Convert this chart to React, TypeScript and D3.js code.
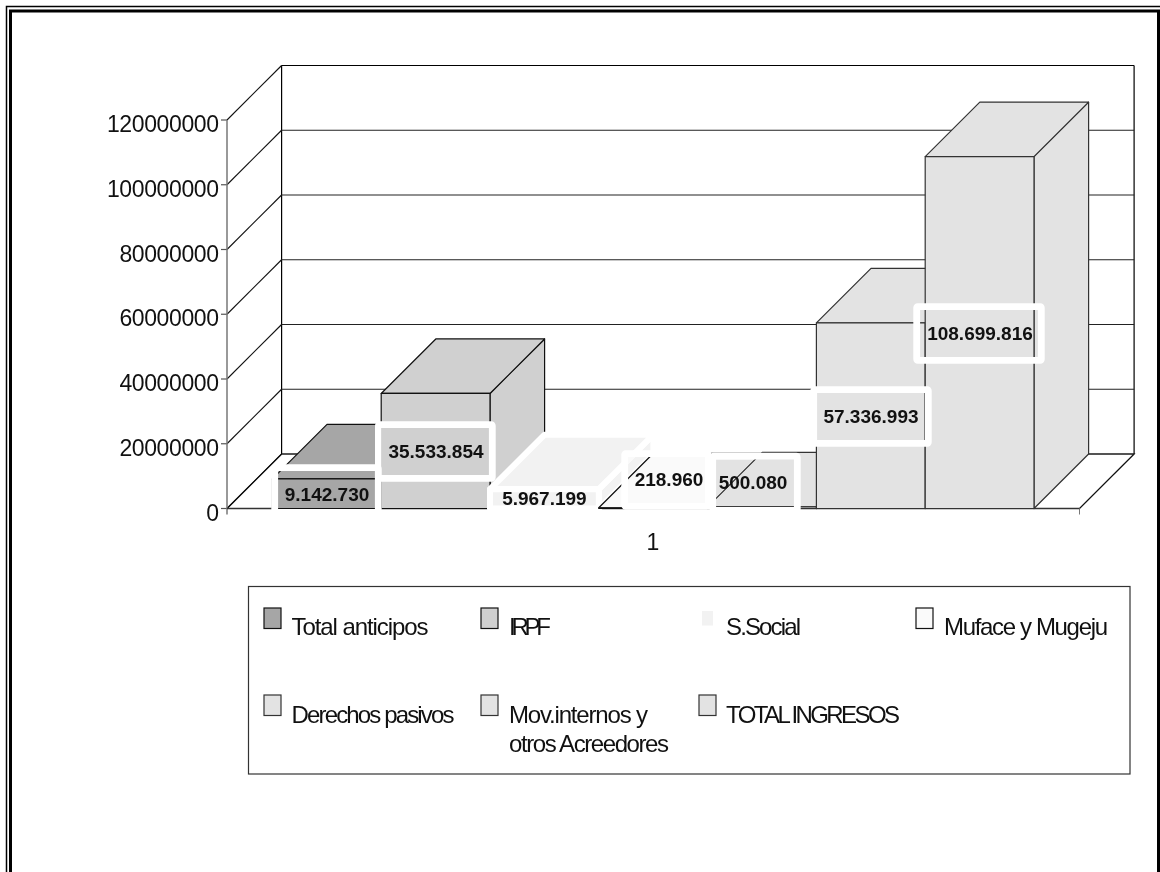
import React from "react";
import * as d3 from "d3";

const seriesNames = ["Total anticipos", "IRPF", "S.Social", "Muface y Mugeju", "Derechos pasivos", "Mov.internos y otros Acreedores", "TOTAL INGRESOS"];
const seriesValues = [9142730, 35533854, 5967199, 218960, 500080, 57336993, 108699816];
const seriesLabels = ["9.142.730", "35.533.854", "5.967.199", "218.960", "500.080", "57.336.993", "108.699.816"];
const seriesFills = ["#a6a6a6", "#d0d0d0", "#f2f2f2", "#fafafa", "#e3e3e3", "#e3e3e3", "#e3e3e3"];
const seriesEdges = ["#111", "#111", "#fff", "#111", "#333", "#333", "#333"];
const yTicks = [0, 20000000, 40000000, 60000000, 80000000, 100000000, 120000000];

const FONT = "'Liberation Sans', Arial, sans-serif";
const x0 = 227, x1 = 1079.5, y0 = 508.5, yTop = 120, dx = 54.6, dy = 54.5;

// label frames: filled area and text centre
const labelFrames: (null | { l: number; t: number; r: number; b: number; tx: number; ty: number })[] = [
  { l: 278, t: 471, r: 375, b: 509, tx: 327, ty: 494 },
  { l: 381.7, t: 428, r: 489, b: 475, tx: 436, ty: 451 },
  null,
  { l: 628, t: 457, r: 705, b: 503, tx: 669, ty: 479 },
  { l: 716, t: 459.5, r: 794, b: 507, tx: 753, ty: 482 },
  { l: 817, t: 393, r: 925, b: 440, tx: 871, ty: 416 },
  { l: 920, t: 310, r: 1038, b: 357, tx: 980, ty: 333 },
];

const legendItems: { key: number; kx: number; ky: number; lines: { s: string; x: number; y: number; w: number }[] }[] = [
  { key: 0, kx: 264, ky: 608, lines: [{ s: "Total anticipos", x: 291.5, y: 635, w: 137 }] },
  { key: 1, kx: 481, ky: 608, lines: [{ s: "IRPF", x: 509, y: 635, w: 42 }] },
  { key: 2, kx: 699, ky: 608, lines: [{ s: "S.Social", x: 726, y: 635, w: 75 }] },
  { key: 3, kx: 916, ky: 608, lines: [{ s: "Muface y Mugeju", x: 944, y: 635, w: 164 }] },
  { key: 4, kx: 264, ky: 695, lines: [{ s: "Derechos pasivos", x: 291.5, y: 723, w: 163 }] },
  { key: 5, kx: 481, ky: 695, lines: [{ s: "Mov.internos y", x: 509, y: 722.5, w: 139 }, { s: "otros Acreedores", x: 509, y: 752, w: 160 }] },
  { key: 6, kx: 699, ky: 695, lines: [{ s: "TOTAL INGRESOS", x: 726, y: 723, w: 174 }] },
];

export default function App() {
  const y = d3.scaleLinear().domain([0, 120000000]).range([y0, yTop]);
  const band = d3.scaleBand<number>().domain(seriesValues.map((_, i) => i)).range([272.4, 1034]).padding(0);
  const w = band.bandwidth();
  const line = d3.line();

  const bars = seriesValues.map((v, i) => {
    const l = band(i)!, r = l + w, t = y(v), b = y0;
    return {
      i, l, r, t, b,
      front: line([[l, t], [r, t], [r, b], [l, b]])! + "Z",
      top: line([[l, t], [l + dx, t - dy], [r + dx, t - dy], [r, t]])! + "Z",
      side: line([[r, t], [r + dx, t - dy], [r + dx, b - dy], [r, b]])! + "Z",
    };
  });

  return (
    <svg width={1160} height={872} style={{ position: "absolute", left: 0, top: 0, background: "#fff", isolation: "isolate" }} fontFamily={FONT}>
      <rect width={1160} height={872} fill="#fff" />
      {/* page frame */}
      <path d="M6.5,872V6.5H1160" fill="none" stroke="#000" strokeWidth={1.5} />
      <path d="M10.5,872V11H1158.5V872" fill="none" stroke="#000" strokeWidth={3} />

      {/* walls */}
      <path d={`M${x0},${y0}L${x0 + dx},${y0 - dy}H${x1 + dx}L${x1},${y0}`} fill="none" stroke="#111" strokeWidth={1.2} />
      <line x1={x0 + dx} x2={x0 + dx} y1={yTop - dy} y2={y0 - dy} stroke="#000" strokeWidth={1.2} />
      <line x1={x1 + dx} x2={x1 + dx} y1={yTop - dy} y2={y0 - dy} stroke="#000" strokeWidth={1.2} />
      {yTicks.map((t) => (
        <g key={t}>
          <line x1={x0} y1={y(t)} x2={x0 + dx} y2={y(t) - dy} stroke="#111" strokeWidth={1.1} />
          <line x1={x0 + dx} y1={y(t) - dy} x2={x1 + dx} y2={y(t) - dy} stroke={t === 120000000 ? "#000" : "#222"} strokeWidth={1.2} />
          <line x1={x0 - 6} y1={y(t)} x2={x0} y2={y(t)} stroke="#555" strokeWidth={1.2} />
          <text x={x0 - 8} y={y(t) + 12} fontSize={23} textAnchor="end" fill="#111"
            textLength={String(t).length * 12.45} lengthAdjust="spacing">{t}</text>
        </g>
      ))}
      <line x1={x0} x2={x0} y1={yTop} y2={y0 + 6} stroke="#777" strokeWidth={1.5} />
      <line x1={x1} x2={x1} y1={y0} y2={y0 + 6} stroke="#777" />
      <line x1={x0} x2={x1} y1={y0} y2={y0} stroke="#333" strokeWidth={1.5} />

      {/* bars painted left to right so each one hides the side of the last */}
      {bars.map((b) => (
        <g key={b.i} fill={seriesFills[b.i]} stroke={seriesEdges[b.i]} strokeWidth={b.i === 2 ? 6 : 1.2} strokeLinejoin="round">
          <path d={b.side} />
          <path d={b.top} />
          <path d={b.front} />
        </g>
      ))}
      {/* label fills keep the lines beneath them */}
      {labelFrames.map((f, i) => f && (
        <rect key={i} x={f.l} y={f.t} width={f.r - f.l} height={f.b - f.t} fill={seriesFills[i]} style={{ mixBlendMode: "darken" }} />
      ))}
      {/* label frames */}
      {labelFrames.map((f, i) => f && (
        <rect key={i} x={f.l - 3.3} y={f.t - 3.3} width={f.r - f.l + 6.6} height={f.b - f.t + 6.6} rx={1} fill="none" stroke="#fff" strokeWidth={6.8} />
      ))}
      {seriesLabels.map((s, i) => {
        const f = labelFrames[i];
        const b = bars[i];
        const tx = f ? f.tx : (b.l + b.r) / 2;
        const ty = f ? f.ty : 498.5;
        return (
          <text key={s} x={tx} y={ty + 6.8} fontSize={19} fontWeight={700} textAnchor="middle" fill="#111">{s}</text>
        );
      })}
      <text x={653} y={550} fontSize={23} textAnchor="middle" fill="#111">1</text>

      {/* legend */}
      <rect x={248.5} y={586.5} width={881.5} height={187.5} fill="#fff" stroke="#333" strokeWidth={1.2} />
      {legendItems.map((it) => (
        <g key={it.key}>
          <rect x={it.kx} y={it.ky} width={17} height={20.5} fill={seriesFills[it.key]} stroke={seriesEdges[it.key]} strokeWidth={it.key === 2 ? 6 : 1.2} />
          {it.lines.map((ln) => (
            <text key={ln.s} x={ln.x} y={ln.y} fontSize={24} fill="#111" textLength={ln.w} lengthAdjust="spacing">{ln.s}</text>
          ))}
        </g>
      ))}
    </svg>
  );
}
